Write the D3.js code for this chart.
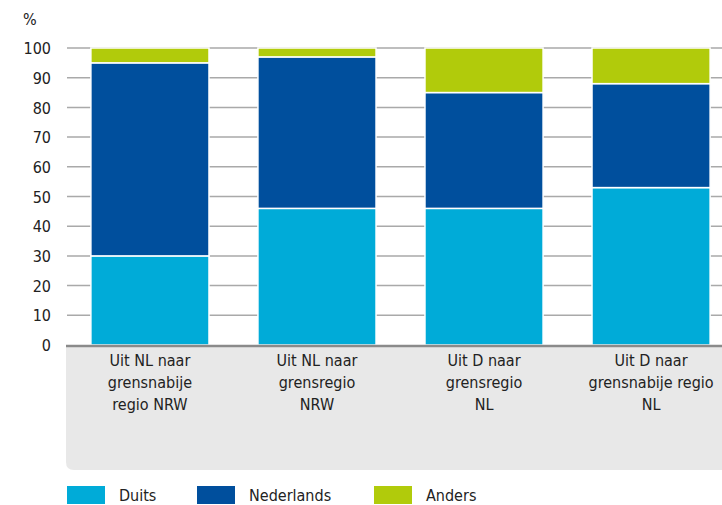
<!DOCTYPE html>
<html><head><meta charset="utf-8">
<script src="https://cdn.jsdelivr.net/npm/d3@7"></script>
<style>body{margin:0;background:#fff}svg{display:block}text{font-family:"DejaVu Sans Condensed","Noto Sans",sans-serif;fill:#222}</style>
</head><body><svg id="c" width="722" height="505"></svg>
<script>
const categories = [
  ["Uit NL naar","grensnabije","regio NRW"],
  ["Uit NL naar","grensregio","NRW"],
  ["Uit D naar","grensregio","NL"],
  ["Uit D naar","grensnabije regio","NL"]
];
const seriesNames = ["Duits","Nederlands","Anders"];
const duits = [30, 46, 46, 53];
const nederlands = [65, 51, 39, 35];
const anders = [5, 3, 15, 12];
const yTicks = [0,10,20,30,40,50,60,70,80,90,100];
const colors = ["#00abd8","#004f9d","#b1cb0b"];

const svg = d3.select("#c");
const x = d3.scaleBand().domain(d3.range(categories.length)).range([66.5, 734.5]).paddingInner(0.293).paddingOuter(0.146);
const y = d3.scaleLinear().domain([0,100]).range([345, 48]);

svg.append("path").attr("fill","#e8e8e8")
  .attr("d", `M66,346 H722 V470 H74 Q66,470 66,462 Z`);

const yAxis = d3.axisLeft(y).tickValues(yTicks).tickSize(0).tickPadding(0);
svg.append("g").selectAll("line").data(yTicks.filter(d=>d>0)).join("line")
  .attr("x1",67).attr("x2",722).attr("y1",d=>y(d)).attr("y2",d=>y(d))
  .attr("stroke","#a9a9a9").attr("stroke-width",1.5);

const ga = svg.append("g").attr("transform","translate(51,0)").call(yAxis);
ga.select(".domain").remove();
ga.selectAll("text").style("font-size","16px").attr("fill","#222").attr("dy","0.35em");
svg.append("text").attr("x",23).attr("y",25).style("font-size","16px").text("%");

const rows = categories.map((c,i)=>({i, Duits:duits[i], Nederlands:nederlands[i], Anders:anders[i]}));
const stack = d3.stack().keys(seriesNames)(rows);
svg.append("g").selectAll("g").data(stack).join("g").attr("fill",(d,i)=>colors[i])
  .selectAll("rect").data(d=>d).join("rect")
  .attr("x",d=>x(d.data.i)).attr("width",x.bandwidth())
  .attr("y",d=>y(d[1])).attr("height",d=>y(d[0])-y(d[1]))
  .attr("stroke","#fff").attr("stroke-width",1.5);

svg.append("line").attr("x1",66).attr("x2",722).attr("y1",346).attr("y2",346).attr("stroke","#8a8a8a").attr("stroke-width",2.5);

const cl = svg.append("g").selectAll("text").data(categories).join("text")
  .attr("x",(d,i)=>x(i)+x.bandwidth()/2).attr("y",366).attr("text-anchor","middle").style("font-size","16px");
cl.selectAll("tspan").data(d=>d).join("tspan").attr("x",function(){return this.parentNode.getAttribute("x");})
  .attr("dy",(d,j)=>j===0?0:22).text(d=>d);

const lx = [67,197,374];
const lg = svg.append("g").selectAll("g").data(seriesNames).join("g").attr("transform",(d,i)=>`translate(${lx[i]},486)`);
lg.append("rect").attr("width",38).attr("height",18).attr("fill",(d,i)=>colors[i]);
lg.append("text").attr("x",52).attr("y",15).style("font-size","16px").text(d=>d);
</script></body></html>
